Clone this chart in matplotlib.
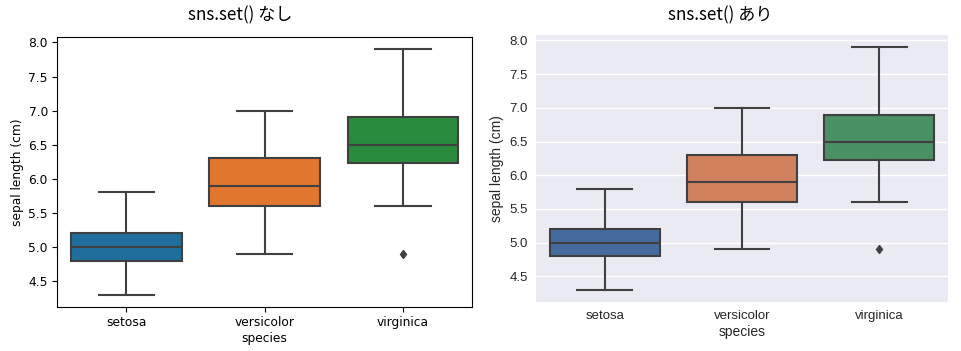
import matplotlib
matplotlib.use("Agg")
import matplotlib.pyplot as plt

# iris sepal length, box statistics
species = ["setosa", "versicolor", "virginica"]
q1 = [4.8, 5.6, 6.225]
medians = [5.0, 5.9, 6.5]
q3 = [5.2, 6.3, 6.9]
whis_lo = [4.3, 4.9, 5.6]
whis_hi = [5.8, 7.0, 7.9]
outliers = [[], [], [4.9]]

colors_plain = ["#1f6e9c", "#e1762f", "#2a8a3e"]
colors_set = ["#456b9e", "#d0805d", "#4a9065"]

LINE = "#404040"


def box_stats():
    stats = []
    for i, name in enumerate(species):
        stats.append(dict(label=name, q1=q1[i], med=medians[i], q3=q3[i],
                          whislo=whis_lo[i], whishi=whis_hi[i],
                          fliers=outliers[i]))
    return stats


def draw(ax, colors, font):
    bp = ax.bxp(box_stats(), positions=range(len(species)), widths=0.8,
                patch_artist=True, showfliers=True,
                boxprops=dict(edgecolor=LINE, linewidth=1.5),
                medianprops=dict(color=LINE, linewidth=1.5),
                whiskerprops=dict(color=LINE, linewidth=1.5),
                capprops=dict(color=LINE, linewidth=1.5),
                capwidths=0.4,
                flierprops=dict(marker="d", markerfacecolor=LINE,
                                markeredgecolor=LINE, markersize=4.5))
    for patch, c in zip(bp["boxes"], colors):
        patch.set_facecolor(c)
        patch.set_zorder(2)
    ax.set_xlim(-0.5, 2.5)
    ax.set_ylim(4.12, 8.08)
    ax.set_yticks([4.5, 5.0, 5.5, 6.0, 6.5, 7.0, 7.5, 8.0])
    ax.set_xticks(range(len(species)))
    ax.set_xticklabels(species)
    ax.set_xlabel("species", fontfamily=font)
    ax.set_ylabel("sepal length (cm)", fontfamily=font)
    for lab in ax.get_xticklabels() + ax.get_yticklabels():
        lab.set_fontfamily(font)


fig = plt.figure(figsize=(9.62, 3.51), dpi=100)

# left: matplotlib defaults
ax1 = fig.add_axes([57 / 962, 44 / 351, 415 / 962, 270 / 351])
draw(ax1, colors_plain, "DejaVu Sans")
ax1.tick_params(labelsize=8.8, length=3.5, width=0.8, pad=3)
ax1.xaxis.label.set_size(8.8)
ax1.yaxis.label.set_size(8.8)
ax1.xaxis.labelpad = 2
ax1.yaxis.labelpad = 3
for s in ax1.spines.values():
    s.set_linewidth(0.8)

# right: seaborn darkgrid look
ax2 = fig.add_axes([536 / 962, 49 / 351, 412 / 962, 267 / 351])
ax2.set_facecolor("#eaeaf2")
ax2.set_axisbelow(True)
ax2.yaxis.grid(True, color="white", linewidth=1.0)
for s in ax2.spines.values():
    s.set_visible(False)
draw(ax2, colors_set, "Liberation Sans")
ax2.tick_params(labelsize=9.5, length=0, pad=6, colors="#262626")
ax2.xaxis.label.set_size(10)
ax2.yaxis.label.set_size(10)
ax2.xaxis.labelpad = 2
ax2.xaxis.label.set_color("#262626")
ax2.yaxis.label.set_color("#262626")

title_font = ["Noto Sans CJK JP", "DejaVu Sans"]
fig.text(240 / 962, 1 - 15 / 351, "sns.set() なし", ha="center", va="center",
         fontsize=12.3, family=title_font)
fig.text(720 / 962, 1 - 15 / 351, "sns.set() あり", ha="center", va="center",
         fontsize=12.3, family=title_font)

fig.savefig("out.png", dpi=100)
